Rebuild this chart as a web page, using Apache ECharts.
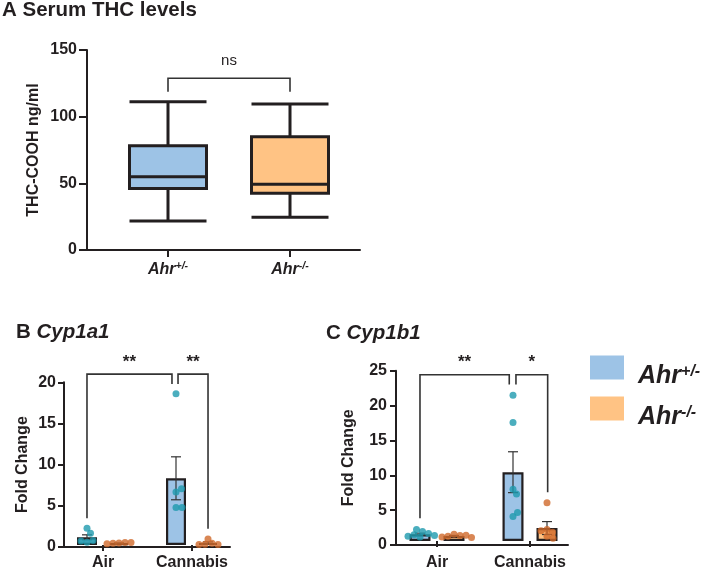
<!DOCTYPE html>
<html>
<head>
<meta charset="utf-8">
<script src="https://cdn.jsdelivr.net/npm/echarts@6/dist/echarts.min.js"></script>
<style>
html,body{margin:0;padding:0;background:#fff;}
#chart{width:709px;height:571px;}
</style>
</head>
<body>
<div id="chart"></div>
<script>
// ---------------- data ----------------
const thcGroups = ['Ahr+/-', 'Ahr-/-'];
const thcBoxWt = [21.8, 46.2, 55.0, 78.2, 111.2];   // min, Q1, median, Q3, max
const thcBoxKo = [24.5, 42.5, 49.3, 85.0, 109.5];
const thcTicks = [0, 50, 100, 150];
const thcBracket = [[0, 1, 128.8, 118.7, 118.7]];   // from, to, top, left end, right end
const thcSig = ['ns'];

const exposures = ['Air', 'Cannabis'];

const cyp1a1Ticks = [0, 5, 10, 15, 20];
const cyp1a1WtAir = [2.05, 1.45, 0.35, 0.55, 0.5];
const cyp1a1KoAir = [0.25, 0.3, 0.2, 0.3, 0.15];
const cyp1a1WtCan = [18.6, 6.5, 6.9, 4.6, 4.6];
const cyp1a1KoCan = [0.75, 0.2, 0.1, 0.05, 0.05];
const cyp1a1WtMean = [0.95, 8.2];
const cyp1a1WtSem = [0.3, 2.64];
const cyp1a1KoMean = [0.22, 0.25];
const cyp1a1KoSem = [0.03, 0.13];
const cyp1a1Brackets = [[-0.18, 0.775, 21.0, 3.3, 19.8], [0.843, 1.18, 21.0, 19.8, 2.0]];
const cyp1a1Sig = ['**', '**'];

const cyp1b1Ticks = [0, 5, 10, 15, 20, 25];
const cyp1b1WtAir = [0.6, 1.4, 0.9, 1.7, 1.1, 0.7, 0.8];
const cyp1b1KoAir = [1.0, 0.8, 0.7, 0.85, 0.6, 0.5];
const cyp1b1WtCan = [21.4, 17.4, 7.6, 6.9, 3.6, 4.2];
const cyp1b1KoCan = [5.6, 1.7, 1.3, 0.7, 0.4, 1.5];
const cyp1b1WtMean = [1.0, 10.1];
const cyp1b1WtSem = [0.15, 3.0];
const cyp1b1KoMean = [0.75, 1.9];
const cyp1b1KoSem = [0.07, 0.95];
const cyp1b1Brackets = [[-0.183, 0.777, 24.4, 3.34, 22.96], [0.849, 1.19, 24.4, 22.96, 7.17]];
const cyp1b1Sig = ['**', '*'];

// ---------------- styles / layout ----------------
const FONT = "'Liberation Sans', Arial, Helvetica, sans-serif";
const BLUE = '#9DC3E6', ORANGE = '#FFC384', TEAL = '#1E9AAE', RUST = '#D0692A', INK = '#231F20', GREY = '#333333';

const L = {
  A: {left: 87, top: 50, width: 273, height: 200, innerLeft: 107, innerWidth: 244},
  B: {left: 64, top: 382.3, width: 166, height: 164.7, innerLeft: 58.5, innerWidth: 178, subPx: 16, barW: 20},
  C: {left: 396, top: 370.7, width: 172, height: 174.3, innerLeft: 390.5, innerWidth: 186, subPx: 17, barW: 21}
};

function supLabel(size, supSize) {
  return {
    m: {fontFamily: FONT, fontWeight: 'bold', fontStyle: 'italic', fontSize: size, lineHeight: size + 2, color: INK},
    s: {fontFamily: FONT, fontWeight: 'bold', fontStyle: 'italic', fontSize: supSize, lineHeight: supSize, color: INK, verticalAlign: 'top'}
  };
}
function ahrText(name) {
  return name === 'Ahr+/-' ? '{m|Ahr}{s|+/-}' : '{m|Ahr}{s|-/-}';
}

// beeswarm offsets in px
function swarm(vals, pxPerY, diam) {
  const placed = [];
  return vals.map(v => {
    const py = v * pxPerY;
    let best = 0;
    outer:
    for (let s = 0; s < 200; s++) {
      const cands = s === 0 ? [0] : [s * 0.5, -s * 0.5];
      for (const c of cands) {
        if (placed.every(p => Math.hypot(p.x - c, p.y - py) >= diam)) { best = c; break outer; }
      }
    }
    placed.push({x: best, y: py});
    return best;
  });
}

function outerX(grid) {
  return {gridIndex: grid, type: 'value', min: 0, max: 1,
    axisLine: {show: true, lineStyle: {color: INK, width: 2}},
    axisTick: {show: false}, axisLabel: {show: false}, splitLine: {show: false}};
}
function catX(grid, data, margin, tickLen, labelCfg) {
  return Object.assign({gridIndex: grid, type: 'category', data: data,
    axisLine: {show: false},
    axisTick: {show: true, alignWithLabel: true, length: tickLen, lineStyle: {color: INK, width: 2}},
    splitLine: {show: false}}, {axisLabel: Object.assign({margin: margin, interval: 0}, labelCfg)});
}
function hiddenX(grid) {
  return {gridIndex: grid, type: 'value', min: -0.5, max: 1.5, show: false};
}
function outerY(grid, ticks, name, nameGap, tickLen, margin) {
  return {gridIndex: grid, type: 'value', min: ticks[0], max: ticks[ticks.length - 1], interval: ticks[1] - ticks[0],
    axisLine: {show: true, lineStyle: {color: INK, width: 2}},
    axisTick: {show: true, length: tickLen, lineStyle: {color: INK, width: 2}},
    axisLabel: {margin: margin, color: INK, fontFamily: FONT, fontWeight: 'bold', fontSize: 16},
    splitLine: {show: false},
    name: name, nameLocation: 'middle', nameGap: nameGap,
    nameTextStyle: {color: INK, fontFamily: FONT, fontWeight: 'bold', fontSize: 16}};
}
function hiddenY(grid, ticks) {
  return {gridIndex: grid, type: 'value', min: ticks[0], max: ticks[ticks.length - 1], show: false};
}

function bracketSeries(xi, yi, data, labels, textGap, font) {
  return {
    type: 'custom', xAxisIndex: xi, yAxisIndex: yi, silent: true, clip: false, z: 4,
    data: data,
    renderItem: function (params, api) {
      const a = api.coord([api.value(0), api.value(3)]);
      const b = api.coord([api.value(0), api.value(2)]);
      const c = api.coord([api.value(1), api.value(2)]);
      const d = api.coord([api.value(1), api.value(4)]);
      return {type: 'group', children: [
        {type: 'polyline', shape: {points: [a, b, c, d]}, style: {stroke: GREY, lineWidth: 1.6, fill: null}},
        {type: 'text', style: {text: labels[params.dataIndex], x: (b[0] + c[0]) / 2, y: b[1] - textGap,
          align: 'center', verticalAlign: 'middle', font: font, fill: INK}}
      ]};
    }
  };
}

function errorSeries(xi, yi, data) {
  return {
    type: 'custom', xAxisIndex: xi, yAxisIndex: yi, silent: true, clip: false, z: 3,
    data: data,
    renderItem: function (params, api) {
      const x = api.value(0), m = api.value(1), s = api.value(2);
      const t = api.coord([x, m + s]);
      const b = api.coord([x, m - s]);
      const hw = 5;
      const st = {stroke: GREY, lineWidth: 1.2};
      return {type: 'group', children: [
        {type: 'line', shape: {x1: t[0], y1: t[1], x2: b[0], y2: b[1]}, style: st},
        {type: 'line', shape: {x1: t[0] - hw, y1: t[1], x2: t[0] + hw, y2: t[1]}, style: st},
        {type: 'line', shape: {x1: b[0] - hw, y1: b[1], x2: b[0] + hw, y2: b[1]}, style: st}
      ]};
    }
  };
}

function barPanel(cfg, xCat, xVal, yi, ticks, d) {
  const half = cfg.innerWidth / 2;
  const pxPerY = cfg.height / ticks[ticks.length - 1];
  const off = cfg.subPx / half;
  const gap = 2 * cfg.subPx - cfg.barW;
  const barGap = (gap / cfg.barW * 100).toFixed(1) + '%';
  function dots(groups, side) {
    const out = [];
    groups.forEach((vals, gi) => {
      const j = swarm(vals, pxPerY, 6);
      vals.forEach((v, k) => out.push([gi + side * off + j[k] / half, v]));
    });
    return out;
  }
  const errData = [];
  d.wtMean.forEach((m, i) => errData.push([i - off, m, d.wtSem[i]]));
  d.koMean.forEach((m, i) => errData.push([i + off, m, d.koSem[i]]));
  return [
    {type: 'bar', name: 'Ahr+/-', xAxisIndex: xCat, yAxisIndex: yi, data: d.wtMean, barWidth: cfg.barW, barGap: barGap,
      itemStyle: {color: BLUE, borderColor: INK, borderWidth: 2.2}, silent: true, z: 2},
    {type: 'bar', name: 'Ahr-/-', xAxisIndex: xCat, yAxisIndex: yi, data: d.koMean, barWidth: cfg.barW, barGap: barGap,
      itemStyle: {color: ORANGE, borderColor: INK, borderWidth: 2.2}, silent: true, z: 2},
    errorSeries(xVal, yi, errData),
    {type: 'scatter', name: 'Ahr+/-', xAxisIndex: xVal, yAxisIndex: yi, data: dots([d.wtAir, d.wtCan], -1),
      symbolSize: 7, itemStyle: {color: TEAL}, silent: true, z: 5},
    {type: 'scatter', name: 'Ahr-/-', xAxisIndex: xVal, yAxisIndex: yi, data: dots([d.koAir, d.koCan], 1),
      symbolSize: 7, itemStyle: {color: RUST}, silent: true, z: 5},
    bracketSeries(xVal, yi, d.brackets, d.sig, 12, 'bold 17px ' + FONT)
  ];
}

const catLabelBC = {color: INK, fontFamily: FONT, fontWeight: 'bold', fontSize: 16};
const titleRich = {n: {color: INK, fontFamily: FONT, fontWeight: 'bold', fontSize: 20.5},
                   i: {color: INK, fontFamily: FONT, fontWeight: 'bold', fontStyle: 'italic', fontSize: 20.5}};

const legendRich = supLabel(25, 16);
legendRich.m.padding = [17, 0, 0, 9];
legendRich.s.padding = [10, 0, 0, 0];

const option = {
  animation: false,
  backgroundColor: '#ffffff',
  title: [
    {text: 'A Serum THC levels', left: 2, top: 0, padding: 0,
      textStyle: {color: INK, fontFamily: FONT, fontWeight: 'bold', fontSize: 20.5}},
    {text: '{n|B }{i|Cyp1a1}', left: 16, top: 322, padding: 0, textStyle: {rich: titleRich}},
    {text: '{n|C }{i|Cyp1b1}', left: 326, top: 323, padding: 0, textStyle: {rich: titleRich}}
  ],
  legend: {
    orient: 'vertical', left: 590, top: 346.5, padding: 0, itemWidth: 34, itemHeight: 24, itemGap: -1,
    icon: 'rect', selectedMode: false,
    data: [{name: 'Ahr+/-', itemStyle: {color: BLUE, borderWidth: 0}}, {name: 'Ahr-/-', itemStyle: {color: ORANGE, borderWidth: 0}}],
    formatter: ahrText,
    textStyle: {rich: legendRich}
  },
  grid: [
    {left: L.A.left, top: L.A.top, width: L.A.width, height: L.A.height},
    {left: L.A.innerLeft, top: L.A.top, width: L.A.innerWidth, height: L.A.height},
    {left: L.B.left, top: L.B.top, width: L.B.width, height: L.B.height},
    {left: L.B.innerLeft, top: L.B.top, width: L.B.innerWidth, height: L.B.height},
    {left: L.C.left, top: L.C.top, width: L.C.width, height: L.C.height},
    {left: L.C.innerLeft, top: L.C.top, width: L.C.innerWidth, height: L.C.height}
  ],
  xAxis: [
    outerX(0),
    catX(1, thcGroups, 11, 7, {formatter: ahrText, rich: supLabel(16, 10.5)}),
    hiddenX(1),
    outerX(2),
    catX(3, exposures, 10, 6, catLabelBC),
    hiddenX(3),
    outerX(4),
    catX(5, exposures, 14, 6, catLabelBC),
    hiddenX(5)
  ],
  yAxis: [
    outerY(0, thcTicks, 'THC-COOH ng/ml', 45, 8, 10),
    hiddenY(1, thcTicks),
    outerY(2, cyp1a1Ticks, 'Fold Change', 33, 6, 8),
    hiddenY(3, cyp1a1Ticks),
    outerY(4, cyp1b1Ticks, 'Fold Change', 39, 6, 9),
    hiddenY(5, cyp1b1Ticks)
  ],
  series: [
    {type: 'boxplot', name: 'THC-COOH', xAxisIndex: 1, yAxisIndex: 1, boxWidth: [77, 77], silent: true,
      itemStyle: {borderColor: INK, borderWidth: 3},
      data: [{value: thcBoxWt, itemStyle: {color: BLUE}}, {value: thcBoxKo, itemStyle: {color: ORANGE}}]},
    bracketSeries(2, 1, thcBracket, thcSig, 17, '15px ' + FONT)
  ].concat(
    barPanel(L.B, 4, 5, 3, cyp1a1Ticks, {
      wtAir: cyp1a1WtAir, wtCan: cyp1a1WtCan, koAir: cyp1a1KoAir, koCan: cyp1a1KoCan,
      wtMean: cyp1a1WtMean, wtSem: cyp1a1WtSem, koMean: cyp1a1KoMean, koSem: cyp1a1KoSem,
      brackets: cyp1a1Brackets, sig: cyp1a1Sig}),
    barPanel(L.C, 7, 8, 5, cyp1b1Ticks, {
      wtAir: cyp1b1WtAir, wtCan: cyp1b1WtCan, koAir: cyp1b1KoAir, koCan: cyp1b1KoCan,
      wtMean: cyp1b1WtMean, wtSem: cyp1b1WtSem, koMean: cyp1b1KoMean, koSem: cyp1b1KoSem,
      brackets: cyp1b1Brackets, sig: cyp1b1Sig})
  )
};

const chart = echarts.init(document.getElementById('chart'), null, {renderer: 'canvas'});
chart.setOption(option);
</script>
</body>
</html>
